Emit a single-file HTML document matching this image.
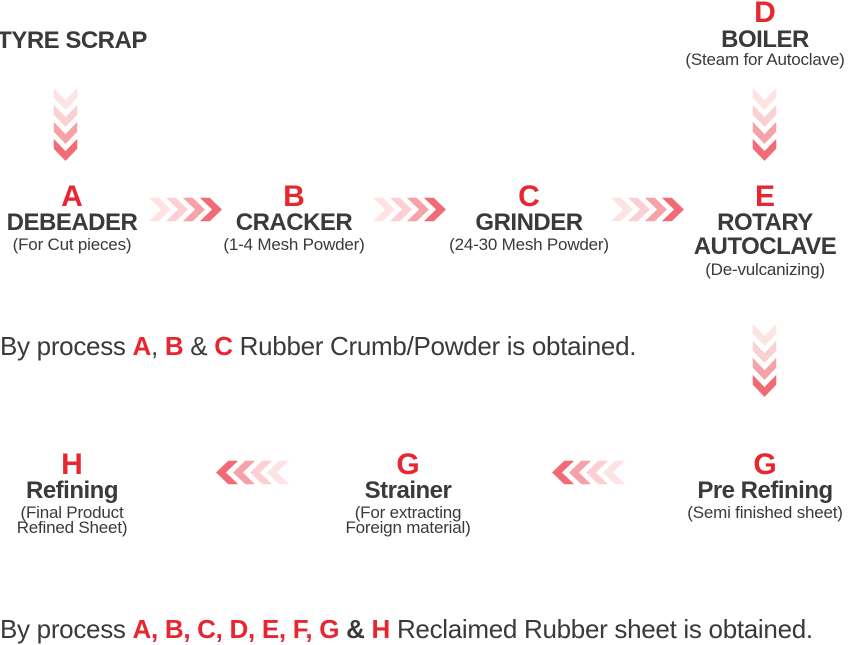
<!DOCTYPE html>
<html><head><meta charset="utf-8"><style>
body{margin:0;width:849px;height:643px;background:#fff;position:relative;overflow:hidden;font-family:"Liberation Sans",sans-serif;color:#3a3a3a}
.t{position:absolute;transform:translateX(-50%);white-space:nowrap;text-align:center}
.L{color:#e8262f;font-weight:bold;font-size:30px;line-height:30px}
.H{font-weight:bold;font-size:24px;line-height:24px;letter-spacing:-0.5px}
.S{font-size:17px;line-height:15px;letter-spacing:-0.2px}
.r{color:#e8262f;font-weight:bold}
.s{position:absolute;left:0;font-size:26px;white-space:nowrap;letter-spacing:-0.3px}
svg{position:absolute}
</style></head><body>
<svg width="849" height="643">
<defs>
<g id="h"><polygon points="0,0 12,0 25,12.5 12,25 0,25 13,12.5" fill="#fde3e3" stroke="#fff" stroke-width="1.5"/>
<polygon transform="translate(17,0)" points="0,0 12,0 25,12.5 12,25 0,25 13,12.5" fill="#fbd0d2" stroke="#fff" stroke-width="1.5"/>
<polygon transform="translate(34,0)" points="0,0 12,0 25,12.5 12,25 0,25 13,12.5" fill="#f5a2a8" stroke="#fff" stroke-width="1.5"/>
<polygon transform="translate(51,0)" points="0,0 12,0 25,12.5 12,25 0,25 13,12.5" fill="#f06b75" stroke="#fff" stroke-width="1.5"/></g>
<g id="v"><polygon points="0,0 0,12 12.5,25 25,12 25,0 12.5,13" fill="#fde3e3" stroke="#fff" stroke-width="1.5"/>
<polygon transform="translate(0,17)" points="0,0 0,12 12.5,25 25,12 25,0 12.5,13" fill="#fbd0d2" stroke="#fff" stroke-width="1.5"/>
<polygon transform="translate(0,34)" points="0,0 0,12 12.5,25 25,12 25,0 12.5,13" fill="#f5a2a8" stroke="#fff" stroke-width="1.5"/>
<polygon transform="translate(0,51)" points="0,0 0,12 12.5,25 25,12 25,0 12.5,13" fill="#f06b75" stroke="#fff" stroke-width="1.5"/></g>
</defs>
<use href="#v" x="53" y="86"/>
<use href="#v" x="752" y="86"/>
<use href="#v" x="752" y="322"/>
<use href="#h" x="147" y="197"/>
<use href="#h" x="371" y="197"/>
<use href="#h" x="609" y="197"/>
<use href="#h" transform="translate(291,0) scale(-1,1)" x="0" y="460"/>
<use href="#h" transform="translate(627,0) scale(-1,1)" x="0" y="460"/>
</svg>

<div class="t H" style="left:72px;top:29px">TYRE SCRAP</div>

<div class="t L" style="left:765px;top:-2px">D</div>
<div class="t H" style="left:765px;top:28px">BOILER</div>
<div class="t S" style="left:765px;top:52px">(Steam for Autoclave)</div>

<div class="t L" style="left:72px;top:182px">A</div>
<div class="t H" style="left:72px;top:211px">DEBEADER</div>
<div class="t S" style="left:72px;top:237px">(For Cut pieces)</div>

<div class="t L" style="left:294px;top:182px">B</div>
<div class="t H" style="left:294px;top:211px">CRACKER</div>
<div class="t S" style="left:294px;top:237px">(1-4 Mesh Powder)</div>

<div class="t L" style="left:529px;top:182px">C</div>
<div class="t H" style="left:529px;top:211px">GRINDER</div>
<div class="t S" style="left:529px;top:237px">(24-30 Mesh Powder)</div>

<div class="t L" style="left:765px;top:182px">E</div>
<div class="t H" style="left:765px;top:211px">ROTARY<br>AUTOCLAVE</div>
<div class="t S" style="left:765px;top:262px">(De-vulcanizing)</div>

<div class="s" style="top:331px">By process <span class="r">A</span>, <span class="r">B</span> &amp; <span class="r">C</span> Rubber Crumb/Powder is obtained.</div>

<div class="t L" style="left:72px;top:450px">H</div>
<div class="t H" style="left:72px;top:479px">Refining</div>
<div class="t S" style="left:72px;top:505px">(Final Product<br>Refined Sheet)</div>

<div class="t L" style="left:408px;top:450px">G</div>
<div class="t H" style="left:408px;top:479px">Strainer</div>
<div class="t S" style="left:408px;top:505px">(For extracting<br>Foreign material)</div>

<div class="t L" style="left:765px;top:450px">G</div>
<div class="t H" style="left:765px;top:479px">Pre Refining</div>
<div class="t S" style="left:765px;top:505px">(Semi finished sheet)</div>

<div class="s" style="top:614px">By process <span class="r">A, B, C, D, E, F, G</span> <b>&amp;</b> <span class="r">H</span> Reclaimed Rubber sheet is obtained.</div>
</body></html>
